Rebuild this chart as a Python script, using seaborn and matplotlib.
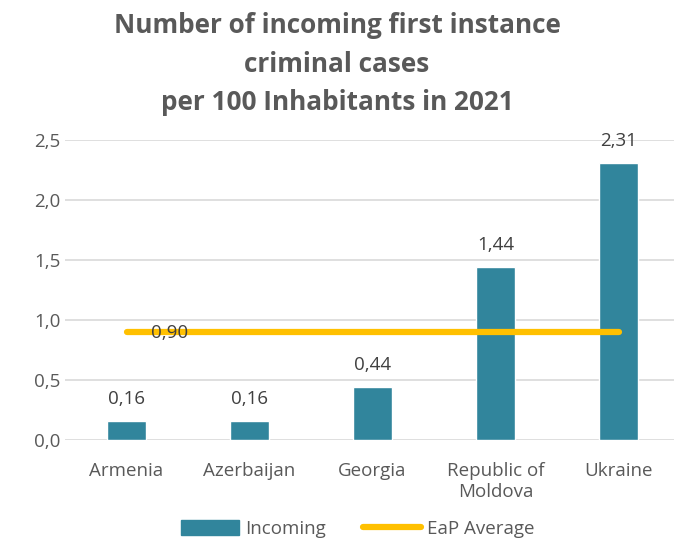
import matplotlib
matplotlib.use("Agg")
import matplotlib.pyplot as plt
import seaborn as sns
import pandas as pd

countries = ["Armenia", "Azerbaijan", "Georgia", "Republic of\nMoldova", "Ukraine"]
incoming = [0.16, 0.16, 0.44, 1.44, 2.31]
eap_average = [0.90, 0.90, 0.90, 0.90, 0.90]
y_ticks = [0.0, 0.5, 1.0, 1.5, 2.0, 2.5]

sns.set_theme(style="white")
plt.rcParams["font.family"] = ["Open Sans", "DejaVu Sans"]

bar_color = "#31859C"
line_color = "#FFC000"
text_gray = "#595959"

df = pd.DataFrame({"country": countries, "incoming": incoming})

fig = plt.figure(figsize=(6.74, 5.39), dpi=100)
ax = fig.add_axes([65 / 674, 1 - 440 / 539, 615 / 674, 300 / 539])

sns.barplot(data=df, x="country", y="incoming", color=bar_color,
            width=0.31, saturation=1, ax=ax, zorder=2)
ax.plot(range(len(countries)), eap_average, color=line_color, lw=4.5,
        solid_capstyle="round", zorder=3)

def fmt(v):
    return f"{v:.2f}".replace(".", ",")

for i, v in enumerate(incoming):
    ax.text(i, v + 0.11, fmt(v), ha="center", va="bottom",
            fontsize=13.5, color="#404040", zorder=4)
ax.text(0.2, eap_average[0] - 0.01, fmt(eap_average[0]), ha="left", va="center",
        fontsize=13.5, color="#404040", zorder=4)

ax.set_ylim(0, 2.5)
ax.set_xlim(-0.5, len(countries) - 0.5)
ax.set_yticks(y_ticks)
ax.set_yticklabels([f"{t:.1f}".replace(".", ",") for t in y_ticks])
ax.yaxis.grid(True, color="#D9D9D9", lw=1.2, zorder=0)
ax.set_axisbelow(True)
for s in ax.spines.values():
    s.set_visible(False)
ax.tick_params(axis="y", length=0, labelsize=13.5, colors=text_gray, pad=22)
ax.tick_params(axis="x", length=0, labelsize=13.5, colors=text_gray, pad=16)
for lbl in ax.get_yticklabels():
    lbl.set_horizontalalignment("left")
ax.set_xlabel("")
ax.set_ylabel("")

fig.text(0.5, 1 - 64 / 539,
         "Number of incoming first instance\ncriminal cases\nper 100 Inhabitants in 2021",
         ha="center", va="center", fontsize=18.8, fontweight="bold",
         color=text_gray, linespacing=1.55)

bar_handle = matplotlib.patches.Patch(color=bar_color)
line_handle = matplotlib.lines.Line2D([], [], color=line_color, lw=4.5,
                                      solid_capstyle="round")
fig.legend([bar_handle, line_handle], ["Incoming", "EaP Average"], loc="center",
           bbox_to_anchor=(0.531, 1 - 529 / 539), ncol=2, frameon=False,
           fontsize=13.5, labelcolor=text_gray, handlelength=3.1, handleheight=0.9,
           columnspacing=2.0, handletextpad=0.3)

fig.savefig("out.png", dpi=100)
